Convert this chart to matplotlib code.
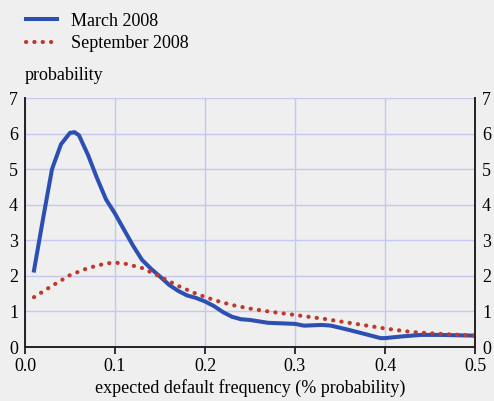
import matplotlib.pyplot as plt

plt.rcParams['font.family'] = ['Liberation Serif', 'DejaVu Serif']
plt.rcParams['font.size'] = 13

march_x = [0.01, 0.02, 0.03, 0.04, 0.05, 0.055, 0.06, 0.07, 0.08, 0.09, 0.10, 0.11, 0.12, 0.13,
           0.14, 0.15, 0.16, 0.17, 0.18, 0.19, 0.20, 0.21, 0.22, 0.23, 0.24, 0.25, 0.27, 0.29,
           0.30, 0.31, 0.33, 0.34, 0.36, 0.38, 0.395, 0.40, 0.42, 0.44, 0.46, 0.48, 0.50]
march_y = [2.15, 3.6, 5.0, 5.7, 6.02, 6.04, 5.95, 5.4, 4.75, 4.15, 3.75, 3.3, 2.85, 2.45,
           2.2, 1.98, 1.75, 1.58, 1.45, 1.38, 1.28, 1.15, 0.98, 0.85, 0.78, 0.76, 0.68, 0.66,
           0.65, 0.6, 0.62, 0.6, 0.48, 0.35, 0.25, 0.25, 0.3, 0.34, 0.34, 0.33, 0.32]

sept_x = [0.01, 0.03, 0.05, 0.07, 0.09, 0.10, 0.11, 0.13, 0.15, 0.17, 0.19, 0.21, 0.23,
          0.25, 0.27, 0.30, 0.33, 0.36, 0.40, 0.43, 0.46, 0.50]
sept_y = [1.40, 1.72, 2.02, 2.22, 2.35, 2.37, 2.35, 2.22, 1.98, 1.72, 1.50, 1.32, 1.18,
          1.08, 1.00, 0.90, 0.80, 0.68, 0.52, 0.42, 0.37, 0.32]

bg = '#efefef'
fig = plt.figure(figsize=(4.94, 4.01), dpi=100, facecolor=bg)
ax = fig.add_axes([25 / 494, 1 - 347 / 401, 450 / 494, 249 / 401], facecolor=bg)

ax.plot(march_x, march_y, color='#2c4fb2', lw=2.9, label='March 2008', solid_joinstyle='round')
ax.plot(sept_x, sept_y, color='#bf3a2c', lw=3.0, dashes=(0.05, 1.95), dash_capstyle='round',
        label='September 2008')

ax.set_xlim(0, 0.5)
ax.set_ylim(0, 7)
ax.set_xticks([0.0, 0.1, 0.2, 0.3, 0.4, 0.5])
ax.set_xticklabels(['0.0', '0.1', '0.2', '0.3', '0.4', '0.5'])
ax.set_yticks(range(8))
ax.grid(True, color='#c5c8ec', lw=1.0)
ax.set_axisbelow(True)

ax.tick_params(axis='x', direction='out', length=5, width=1.3, color='#222222', pad=3)
ax.tick_params(axis='y', length=0, pad=5, labelleft=True, labelright=True)
for s in ['left', 'right', 'bottom']:
    ax.spines[s].set_color('#222222')
    ax.spines[s].set_linewidth(1.4)
ax.spines['top'].set_visible(False)

ax.set_xlabel('expected default frequency (% probability)', labelpad=3)
fig.text(25 / 494, 1 - 75 / 401, 'probability', ha='left', va='center')

leg = fig.legend(loc='upper left', bbox_to_anchor=(13 / 494, 1.0), frameon=False,
                 borderpad=0.2, handlelength=1.75, handletextpad=0.75, labelspacing=0.3)

fig.savefig('out.png', dpi=100, facecolor=bg)
